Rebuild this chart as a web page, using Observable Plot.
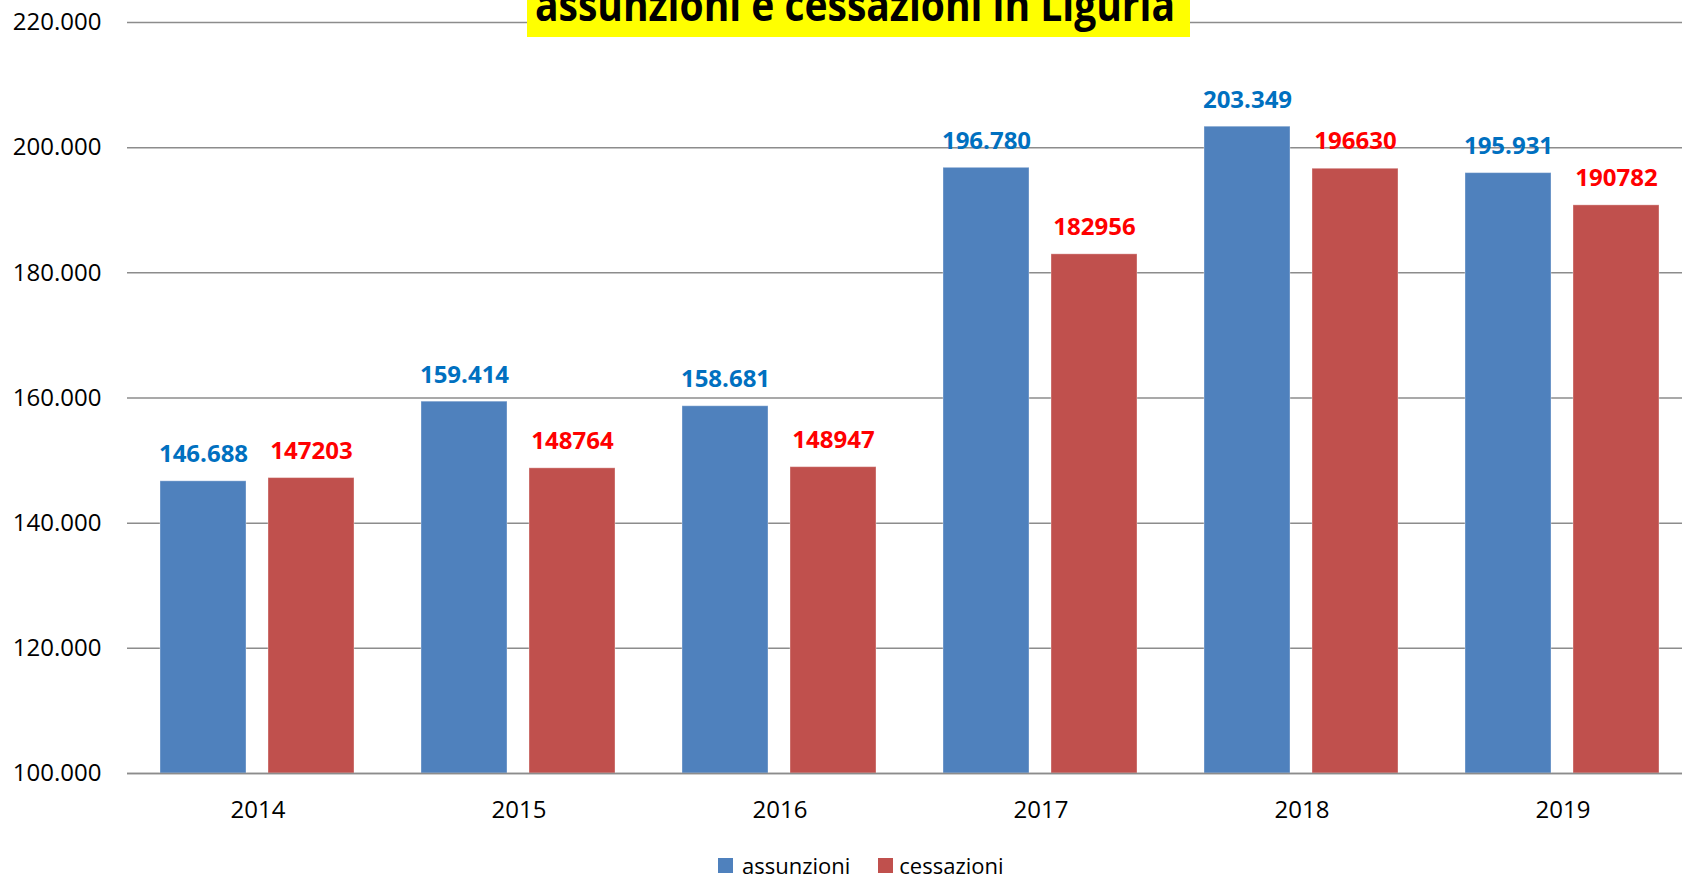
<!DOCTYPE html>
<html>
<head>
<meta charset="utf-8">
<script src="https://cdn.jsdelivr.net/npm/d3@7"></script>
<script src="https://cdn.jsdelivr.net/npm/@observablehq/plot@0.6"></script>
<style>
  body { margin: 0; background: #fff; font-family: "Open Sans", sans-serif; }
  #wrap { position: relative; width: 1682px; height: 879px; overflow: hidden; }
  #chart { width: 1694px; }
  #chart svg { display: block; max-width: none !important; }
  #title { position: absolute; left: 527px; top: 0; width: 663px; height: 37px; background: #ffff00; overflow: hidden; }
  #title span { position: absolute; left: 8px; top: -18px; font-size: 44px; font-weight: 700; line-height: 1; white-space: nowrap; transform-origin: 0 0; color: #000; }
  #legend { position: absolute; left: 718px; top: 853px; display: flex; align-items: center; font-size: 22px; color: #000; line-height: 24px; }
  #legend .sw { width: 15px; height: 15px; display: inline-block; }
</style>
</head>
<body>
<div id="wrap">
  <div id="chart"></div>
  <div id="title"><span id="titletext">assunzioni e cessazioni in Liguria</span></div>
  <div id="legend"></div>
</div>
<script>
const years = ["2014", "2015", "2016", "2017", "2018", "2019"];
const assunzioni = [146688, 159414, 158681, 196780, 203349, 195931];
const cessazioni = [147203, 148764, 148947, 182956, 196630, 190782];
const series = ["assunzioni", "cessazioni"];
const colors = ["#4F81BD", "#C0504D"];
const labelColors = ["#0070C0", "#FF0000"];
const yTicks = [100000, 120000, 140000, 160000, 180000, 200000, 220000];
const yMin = 100000, yMax = 220000;

const rows = years.flatMap((yr, i) => [
  {year: yr, serie: series[0], value: assunzioni[i]},
  {year: yr, serie: series[1], value: cessazioni[i]}
]);

const it = d3.formatLocale({decimal: ",", thousands: ".", grouping: [3], currency: ["€", ""]});
const fmt = it.format(",d");

const chart = Plot.plot({
  width: 1694,
  height: 840,
  marginLeft: 125,
  marginRight: 0,
  marginTop: 22,
  marginBottom: 67,
  style: {fontFamily: "Open Sans", fontSize: "24px", color: "#000", background: "transparent", overflow: "visible", maxWidth: "none"},
  fx: {domain: years, padding: 0, label: null, tickSize: 0, tickPadding: 27},
  x: {domain: series, paddingInner: 0.2018, paddingOuter: 0.3005, axis: null},
  y: {domain: [yMin, yMax], ticks: yTicks, tickFormat: fmt, tickSize: 0, tickPadding: 26, label: null},
  color: {domain: series, range: colors},
  marks: [
    Plot.ruleY(yTicks, {stroke: "#8c8c8c", strokeWidth: 1.5}),
    Plot.barY(rows, {fx: "year", x: "serie", y1: () => yMin, y2: "value", fill: "serie", stroke: "#ffffff", strokeOpacity: 0.35, strokeWidth: 1}),
    Plot.ruleY([yMin], {stroke: "#8c8c8c", strokeWidth: 1.5}),
    Plot.text(rows.filter(d => d.serie === series[0]), {fx: "year", x: "serie", y: "value", text: d => fmt(d.value), dy: -26.5, fill: labelColors[0], fontWeight: "bold", fontSize: 24}),
    Plot.text(rows.filter(d => d.serie === series[1]), {fx: "year", x: "serie", y: "value", text: d => String(d.value), dy: -27, fill: labelColors[1], fontWeight: "bold", fontSize: 24})
  ]
});
document.getElementById("chart").appendChild(chart);

// drop shadow for the blue labels
const svgNS = "http://www.w3.org/2000/svg";
const defs = document.createElementNS(svgNS, "defs");
defs.innerHTML = '<filter id="lblShadow" x="-20%" y="-40%" width="140%" height="180%"><feDropShadow dx="2" dy="2.5" stdDeviation="1.4" flood-color="#000" flood-opacity="0.55"/></filter>';
chart.insertBefore(defs, chart.firstChild);
chart.querySelectorAll('g[aria-label="text"]').forEach(g => {
  if ((g.getAttribute("fill") || "").toLowerCase() === labelColors[0].toLowerCase()) g.setAttribute("filter", "url(#lblShadow)");
});

// legend
const legend = document.getElementById("legend");
series.forEach((s, i) => {
  const sw = document.createElement("span");
  sw.className = "sw";
  sw.style.background = colors[i];
  sw.style.marginLeft = i === 0 ? "0px" : "28px";
  sw.style.marginRight = i === 0 ? "9px" : "6px";
  legend.appendChild(sw);
  const t = document.createElement("span");
  t.textContent = s;
  legend.appendChild(t);
});

// fit the title width
const tt = document.getElementById("titletext");
const w = tt.getBoundingClientRect().width;
tt.style.transform = `scaleX(${640 / w})`;
</script>
</body>
</html>
